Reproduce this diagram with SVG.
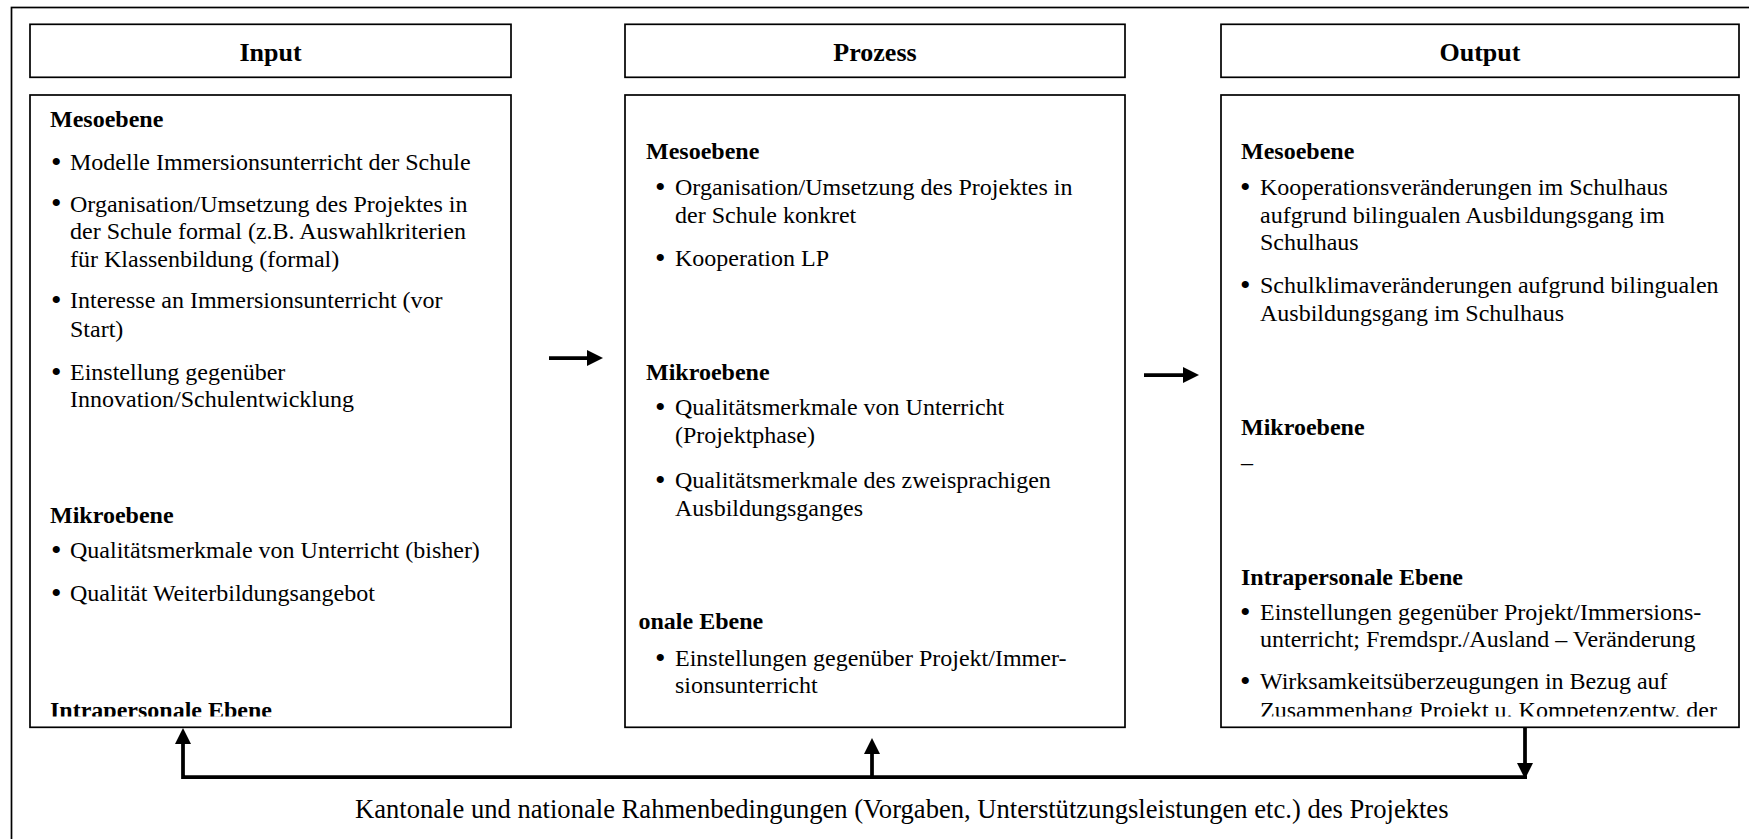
<svg xmlns="http://www.w3.org/2000/svg" width="1749" height="839" viewBox="0 0 1749 839">
<style>
.box{fill:#fff;stroke:#000;stroke-width:1.7}
.hd{font-family:"Liberation Serif","Times New Roman",serif;font-weight:bold;font-size:26px;text-anchor:middle;fill:#000}
.h{font-family:"Liberation Serif","Times New Roman",serif;font-weight:bold;font-size:24px;fill:#000}
.t{font-family:"Liberation Serif","Times New Roman",serif;font-size:24px;fill:#000}
.b{font-family:"Liberation Serif","Times New Roman",serif;font-size:30px;fill:#000}
.foot{font-family:"Liberation Serif","Times New Roman",serif;font-size:26.6px;fill:#000}
.con{fill:none;stroke:#000;stroke-width:3.75;stroke-linejoin:miter}
</style>
<defs>
<marker id="ah" markerUnits="userSpaceOnUse" markerWidth="17" markerHeight="17" refX="0" refY="8" orient="auto" overflow="visible">
<path d="M0,0 L16,8 L0,16 Z" fill="#000"/>
</marker>
<clipPath id="clipIn"><rect x="30" y="95" width="481" height="621.5"/></clipPath>
<clipPath id="clipPr"><rect x="638.5" y="95" width="486" height="632"/></clipPath>
<clipPath id="clipOut"><rect x="1221" y="95" width="518" height="621.5"/></clipPath>
</defs>
<rect id="frame" x="11.5" y="7.5" width="1760" height="850" fill="#fff" stroke="#000" stroke-width="1.7"/>

<g id="input-header">
<rect class="box" x="30" y="24.3" width="481" height="53"/>
<text class="hd" x="270.5" y="60.5">Input</text>
</g>
<g id="input">
<rect class="box" x="30" y="95" width="481" height="632.3"/>
<g clip-path="url(#clipIn)">
<text class="h" x="50" y="127">Mesoebene</text>
<text class="b" x="51" y="171.5">•</text><text class="t" x="70" y="170">Modelle Immersionsunterricht der Schule</text>
<text class="b" x="51" y="213.2">•</text><text class="t" x="70" y="211.7">Organisation/Umsetzung des Projektes in</text>
<text class="t" x="70" y="239.3">der Schule formal (z.B. Auswahlkriterien</text>
<text class="t" x="70" y="266.7">für Klassenbildung (formal)</text>
<text class="b" x="51" y="309.8">•</text><text class="t" x="70" y="308.3">Interesse an Immersionsunterricht (vor</text>
<text class="t" x="70" y="336.7">Start)</text>
<text class="b" x="51" y="381.5">•</text><text class="t" x="70" y="380">Einstellung gegenüber</text>
<text class="t" x="70" y="407.3">Innovation/Schulentwicklung</text>
<text class="h" x="50" y="522.7">Mikroebene</text>
<text class="b" x="51" y="559.8">•</text><text class="t" x="70" y="558.3">Qualitätsmerkmale von Unterricht (bisher)</text>
<text class="b" x="51" y="602.5">•</text><text class="t" x="70" y="601">Qualität Weiterbildungsangebot</text>
<text class="h" x="50" y="717.5">Intrapersonale Ebene</text>
</g>
</g>

<g id="prozess-header">
<rect class="box" x="625" y="24.3" width="500" height="53"/>
<text class="hd" x="875" y="60.5">Prozess</text>
</g>
<g id="prozess">
<rect class="box" x="625" y="95" width="500" height="632.3"/>
<g clip-path="url(#clipPr)">
<text class="h" x="646" y="159.3">Mesoebene</text>
<text class="b" x="655" y="196.5">•</text><text class="t" x="675" y="195">Organisation/Umsetzung des Projektes in</text>
<text class="t" x="675" y="222.7">der Schule konkret</text>
<text class="b" x="655" y="267.5">•</text><text class="t" x="675" y="266">Kooperation LP</text>
<text class="h" x="646" y="380">Mikroebene</text>
<text class="b" x="655" y="416.5">•</text><text class="t" x="675" y="415">Qualitätsmerkmale von Unterricht</text>
<text class="t" x="675" y="442.6">(Projektphase)</text>
<text class="b" x="655" y="489.8">•</text><text class="t" x="675" y="488.3">Qualitätsmerkmale des zweisprachigen</text>
<text class="t" x="675" y="515.5">Ausbildungsganges</text>
<text class="h" x="541.2" y="629">Intrapersonale Ebene</text>
<text class="b" x="655" y="667.5">•</text><text class="t" x="675" y="666">Einstellungen gegenüber Projekt/Immer-</text>
<text class="t" x="675" y="693">sionsunterricht</text>
</g>
</g>

<g id="output-header">
<rect class="box" x="1221" y="24.3" width="518" height="53"/>
<text class="hd" x="1480" y="60.5">Output</text>
</g>
<g id="output">
<rect class="box" x="1221" y="95" width="518" height="632.3"/>
<g clip-path="url(#clipOut)">
<text class="h" x="1241" y="159.3">Mesoebene</text>
<text class="b" x="1240" y="196.5">•</text><text class="t" x="1260" y="195">Kooperationsveränderungen im Schulhaus</text>
<text class="t" x="1260" y="222.7">aufgrund bilingualen Ausbildungsgang im</text>
<text class="t" x="1260" y="250">Schulhaus</text>
<text class="b" x="1240" y="294.8">•</text><text class="t" x="1260" y="293.3">Schulklimaveränderungen aufgrund bilingualen</text>
<text class="t" x="1260" y="320.7">Ausbildungsgang im Schulhaus</text>
<text class="h" x="1241" y="435">Mikroebene</text>
<text class="t" x="1241" y="470">–</text>
<text class="h" x="1241" y="585">Intrapersonale Ebene</text>
<text class="b" x="1240" y="621.5">•</text><text class="t" x="1260" y="620">Einstellungen gegenüber Projekt/Immersions-</text>
<text class="t" x="1260" y="646.7">unterricht; Fremdspr./Ausland – Veränderung</text>
<text class="b" x="1240" y="690.8">•</text><text class="t" x="1260" y="689.3">Wirksamkeitsüberzeugungen in Bezug auf</text>
<text class="t" x="1260" y="717.5">Zusammenhang Projekt u. Kompetenzentw. der</text>
</g>
</g>

<g id="connectors">
<path class="con" d="M549,358 H587" marker-end="url(#ah)"/>
<path class="con" d="M1144,375 H1183" marker-end="url(#ah)"/>
<path class="con" d="M1527,777 H183 V744" marker-end="url(#ah)"/>
<path class="con" d="M872,777 V754" marker-end="url(#ah)"/>
<path class="con" d="M1525,727.5 V763" marker-end="url(#ah)"/>
</g>

<g id="footer">
<text class="foot" x="355" y="818">Kantonale und nationale Rahmenbedingungen (Vorgaben, Unterstützungsleistungen etc.) des Projektes</text>
</g>
</svg>
